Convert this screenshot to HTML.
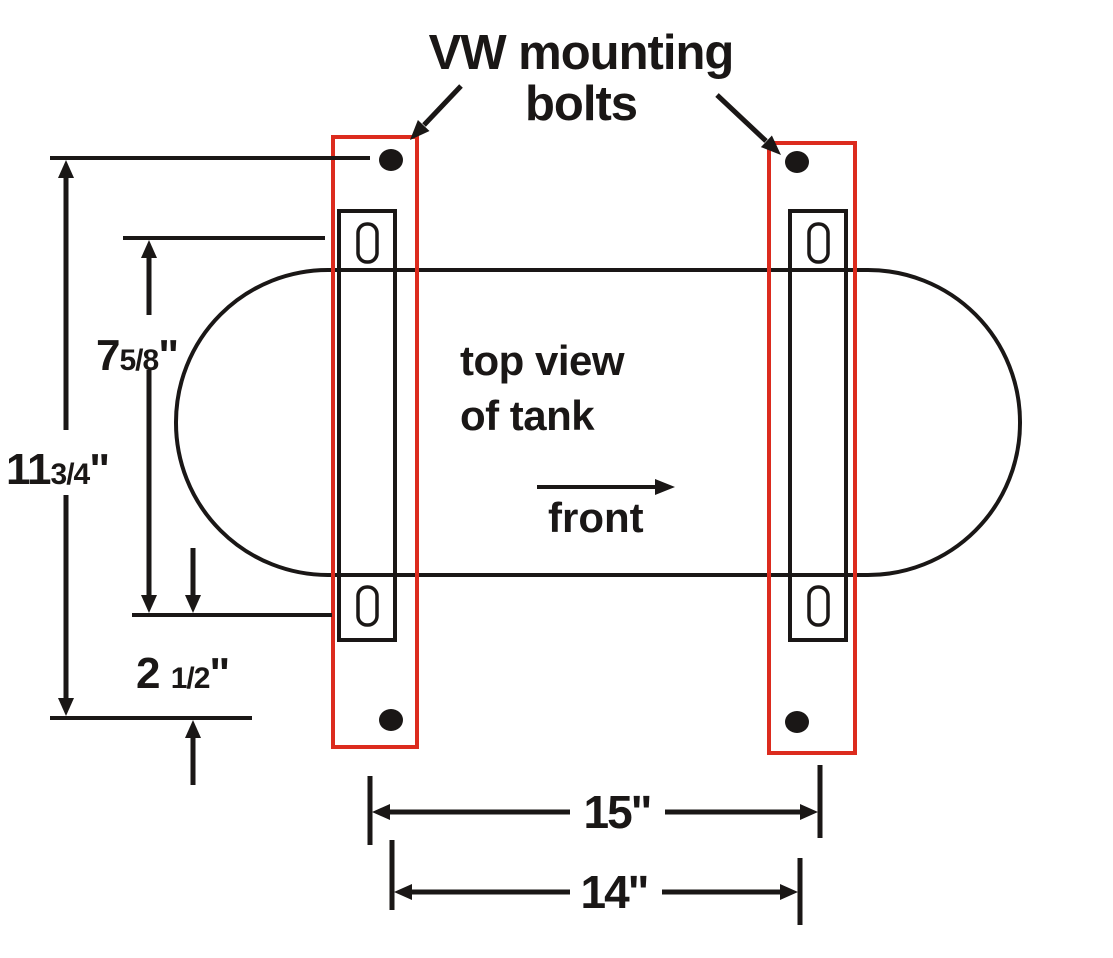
<!DOCTYPE html>
<html><head><style>html,body{margin:0;padding:0;background:#fff}svg{display:block}text{font-family:"Liberation Sans",Arial,sans-serif;font-weight:bold;fill:#1a1716}</style></head>
<body>
<svg width="1113" height="958" viewBox="0 0 1113 958" xmlns="http://www.w3.org/2000/svg">
<g stroke="#1a1716" fill="none">
<rect x="176" y="270" width="844" height="305" rx="152" ry="152" stroke-width="4" fill="#fff"/>
<rect x="339" y="211" width="56" height="429" stroke-width="4"/>
<rect x="790" y="211" width="56" height="429" stroke-width="4"/>
<rect x="358" y="224" width="19" height="38" rx="9" stroke-width="3.5"/>
<rect x="358" y="587" width="19" height="38" rx="9" stroke-width="3.5"/>
<rect x="809" y="224" width="19" height="38" rx="9" stroke-width="3.5"/>
<rect x="809" y="587" width="19" height="38" rx="9" stroke-width="3.5"/>
</g>
<g fill="#1a1716">
<ellipse cx="391" cy="160" rx="12" ry="11"/>
<ellipse cx="391" cy="720" rx="12" ry="11"/>
<ellipse cx="797" cy="162" rx="12" ry="11"/>
<ellipse cx="797" cy="722" rx="12" ry="11"/>
</g>
<g stroke="#dc2b1e" stroke-width="4" fill="none">
<rect x="333" y="137" width="84" height="610"/>
<rect x="769" y="143" width="86" height="610"/>
</g>
<g stroke="#1a1716" stroke-width="5" fill="none">
<line x1="50" y1="158" x2="370" y2="158" stroke-width="4"/>
<line x1="50" y1="718" x2="252" y2="718" stroke-width="4"/>
<line x1="66" y1="430" x2="66" y2="175"/>
<line x1="66" y1="495" x2="66" y2="700"/>
<line x1="123" y1="238" x2="325" y2="238" stroke-width="4"/>
<line x1="132" y1="615" x2="332" y2="615" stroke-width="4"/>
<line x1="149" y1="315" x2="149" y2="255"/>
<line x1="149" y1="370" x2="149" y2="598"/>
<line x1="193" y1="548" x2="193" y2="598"/>
<line x1="193" y1="785" x2="193" y2="735"/>
<line x1="370" y1="776" x2="370" y2="845"/>
<line x1="820" y1="765" x2="820" y2="838"/>
<line x1="570" y1="812" x2="388" y2="812"/>
<line x1="665" y1="812" x2="802" y2="812"/>
<line x1="392" y1="840" x2="392" y2="910"/>
<line x1="800" y1="858" x2="800" y2="925"/>
<line x1="570" y1="892" x2="410" y2="892"/>
<line x1="662" y1="892" x2="782" y2="892"/>
<line x1="461" y1="86" x2="424" y2="125"/>
<line x1="717" y1="95" x2="766" y2="141"/>
<line x1="537" y1="487" x2="658" y2="487" stroke-width="4"/>
</g>
<g fill="#1a1716">
<polygon points="66,160 58,178 74,178"/>
<polygon points="66,716 58,698 74,698"/>
<polygon points="149,240 141,258 157,258"/>
<polygon points="149,613 141,595 157,595"/>
<polygon points="193,613 185,595 201,595"/>
<polygon points="193,720 185,738 201,738"/>
<polygon points="372,812 390,804 390,820"/>
<polygon points="818,812 800,804 800,820"/>
<polygon points="394,892 412,884 412,900"/>
<polygon points="798,892 780,884 780,900"/>
<polygon points="675,487 655,479 655,495"/>
<polygon points="410,140 429.5,131 417.9,120"/>
<polygon points="781,155 760.9,147.1 771.9,135.5"/>
</g>
<text x="581" y="69" font-size="49" text-anchor="middle" letter-spacing="-1">VW mounting</text>
<text x="581" y="120" font-size="49" text-anchor="middle" letter-spacing="-1">bolts</text>
<text x="460" y="375" font-size="42" letter-spacing="-0.5">top view</text>
<text x="460" y="430" font-size="42" letter-spacing="-0.5">of tank</text>
<text x="548" y="532" font-size="42">front</text>
<text x="6" y="484" font-size="44" letter-spacing="-1">11<tspan font-size="30">3/4</tspan>"</text>
<text x="96" y="370" font-size="44" letter-spacing="-1">7<tspan font-size="30">5/8</tspan>"</text>
<text x="136" y="688" font-size="44" letter-spacing="-1">2 <tspan font-size="30">1/2</tspan>"</text>
<text x="617" y="828" font-size="46" text-anchor="middle" letter-spacing="-2">15"</text>
<text x="614" y="908" font-size="46" text-anchor="middle" letter-spacing="-2">14"</text>
</svg>
</body></html>
